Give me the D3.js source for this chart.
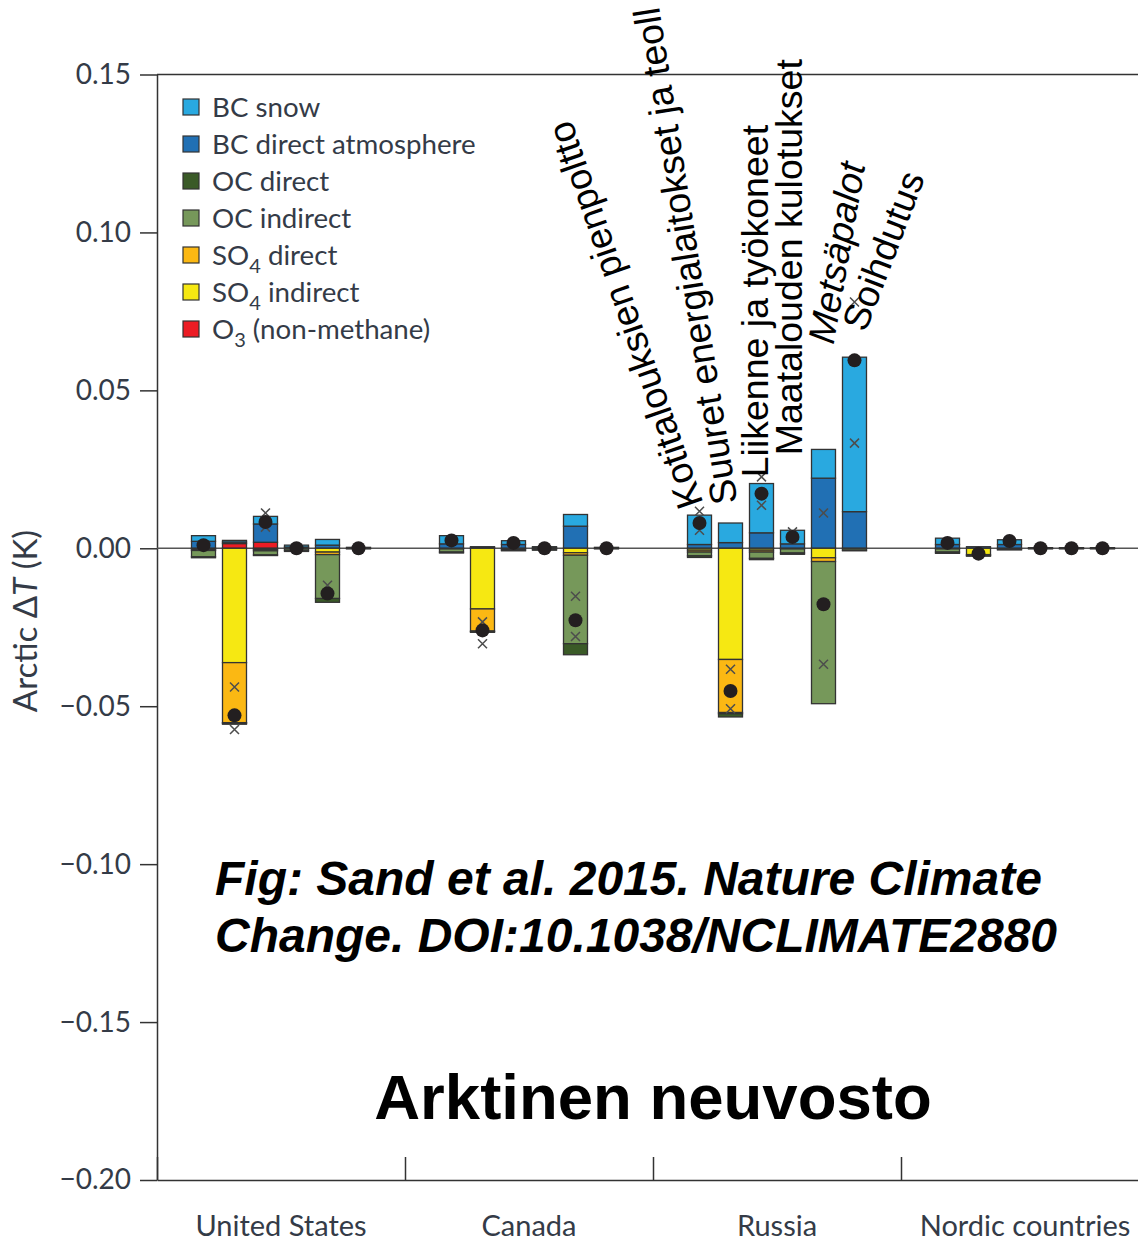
<!DOCTYPE html>
<html>
<head>
<meta charset="utf-8">
<script src="https://cdn.jsdelivr.net/npm/d3@7"></script>
<style>
  body { margin: 0; background: #fff; }
  svg { display: block; }
</style>
</head>
<body>
<div id="chart"></div>
<script>
// categories
var countries = ['United States', 'Canada', 'Russia', 'Nordic countries'];
var sectors = ['Kotitalouksien pienpoltto', 'Suuret energialaitokset ja teoll', 'Liikenne ja työkoneet',
  'Maatalouden kulotukset', 'Metsäpalot', 'Soihdutus'];
var yTicks = [0.15, 0.10, 0.05, 0.00, -0.05, -0.10, -0.15, -0.20];

// values (K), 6 sectors per country, in country order
var bcSnow = [
  0.0018, 0.0005, 0.0024, 0.0006, 0.0018, 0,
  0.0026, 0.0002, 0.0012, 0.0002, 0.0037, 0,
  0.0093, 0.0062, 0.0156, 0.0043, 0.0091, 0.0489,
  0.0020, 0, 0.0015, 0, 0, 0];
var bcAtm = [
  0.0022, 0.0005, 0.0058, 0.0004, 0.0010, 0.0003,
  0.0014, 0.0003, 0.0012, 0.0003, 0.0070, 0.0003,
  0.0012, 0.0018, 0.0049, 0.0014, 0.0222, 0.0116,
  0.0012, 0.0005, 0.0012, 0.0002, 0.0002, 0.0002];
var ocDirect = [
  -0.0003, -0.0003, -0.0002, -0.0004, -0.0012, -0.0002,
  -0.0003, -0.0002, -0.0002, -0.0002, -0.0035, -0.0002,
  -0.0005, -0.0010, -0.0004, -0.0004, 0, -0.0002,
  -0.0004, -0.0002, -0.0001, -0.0002, -0.0002, -0.0002];
var ocIndirect = [
  -0.0020, -0.0002, -0.0013, -0.0006, -0.0139, 0,
  -0.0010, -0.0002, -0.0004, -0.0004, -0.0280, 0,
  -0.0012, -0.0004, -0.0020, -0.0013, -0.0450, -0.0006,
  -0.0010, 0, -0.0004, 0, 0, 0];
var so4Direct = [
  -0.0003, -0.0190, -0.0004, 0, -0.0008, 0,
  0, -0.0070, 0, 0, -0.0008, 0,
  -0.0006, -0.0168, -0.0006, 0, -0.0012, 0,
  0, -0.0003, 0, 0, 0, 0];
var so4Indirect = [
  -0.0004, -0.0362, -0.0004, 0, -0.0012, 0,
  -0.0002, -0.0192, -0.0002, 0, -0.0014, 0,
  -0.0006, -0.0352, -0.0006, -0.0002, -0.0030, 0,
  -0.0002, -0.0020, 0, 0, 0, 0];
var o3 = [
  0, 0.0015, 0.0019, 0, 0, 0,
  0, 0, 0, 0, 0, 0,
  0, 0, 0, 0, 0, 0,
  0, 0, 0, 0, 0, 0];

// net total (dots) and the two other estimates (crosses)
var netTotal = [
  0.0010, -0.0529, 0.0083, 0.0000, -0.0143, 0.0000,
  0.0025, -0.0260, 0.0017, 0.0000, -0.0228, 0.0000,
  0.0080, -0.0452, 0.0173, 0.0036, -0.0177, 0.0595,
  0.0017, -0.0017, 0.0023, 0.0000, 0.0000, 0.0000];
var crossA = [
  null, -0.0439, 0.0112, null, -0.0117, null,
  null, -0.0233, null, null, -0.0152, null,
  0.0117, -0.0383, 0.0226, 0.0052, 0.0112, 0.0780,
  null, null, null, null, null, null];
var crossB = [
  null, -0.0574, 0.0067, null, null, null,
  null, -0.0302, null, null, -0.0279, null,
  0.0057, -0.0508, 0.0136, null, -0.0367, 0.0333,
  null, null, null, null, null, null];

// legend
var legendLabels = ['BC snow', 'BC direct atmosphere', 'OC direct', 'OC indirect', 'SO4 direct', 'SO4 indirect', 'O3 (non-methane)'];
var legendKeys = ['bcSnow', 'bcAtm', 'ocDirect', 'ocIndirect', 'so4Direct', 'so4Indirect', 'o3'];
var colors = {
  bcSnow: '#29a9e0', bcAtm: '#2170b4', ocDirect: '#3a5a27', ocIndirect: '#76985a',
  so4Direct: '#fbb813', so4Indirect: '#f6e812', o3: '#ec1c24'
};

var width = 1138, height = 1241;
var plotLeft = 157, plotRight = 1149, plotTop = 74.5, plotBottom = 1180;
var axisFont = 'Lato, "Open Sans", sans-serif';
var axisColor = '#343b47';

var svg = d3.select('#chart').append('svg')
  .attr('width', width)
  .attr('height', height);

var x0 = d3.scaleBand().domain(countries).range([plotLeft, plotRight]);
var x1 = d3.scaleBand().domain(sectors).range([0, x0.bandwidth()])
  .paddingInner(7 / 31).paddingOuter(1.113);
var y = d3.scaleLinear().domain([-0.20, 0.15]).range([plotBottom, plotTop]);

var rows = [];
countries.forEach(function(c, ci) {
  sectors.forEach(function(s, si) {
    var i = ci * sectors.length + si;
    rows.push({
      country: c, sector: s,
      o3: o3[i], bcAtm: bcAtm[i], bcSnow: bcSnow[i],
      so4Indirect: so4Indirect[i], so4Direct: so4Direct[i],
      ocIndirect: ocIndirect[i], ocDirect: ocDirect[i],
      net: netTotal[i], crosses: [crossA[i], crossB[i]].filter(function(v) { return v !== null; })
    });
  });
});

function barX(d) { return x0(d.country) + x1(d.sector); }

// frame top line
svg.append('line')
  .attr('x1', plotLeft).attr('x2', plotRight)
  .attr('y1', plotTop).attr('y2', plotTop)
  .attr('stroke', '#333').attr('stroke-width', 1.5);

// y axis
var yAxis = svg.append('g')
  .attr('transform', 'translate(' + plotLeft + ',0)')
  .call(d3.axisLeft(y).tickValues(yTicks).tickSize(17).tickSizeOuter(0).tickPadding(9)
    .tickFormat(d3.format('.2f')));
yAxis.select('.domain').attr('stroke', '#333').attr('stroke-width', 1.5);
yAxis.selectAll('.tick line').attr('stroke', '#333').attr('stroke-width', 1.5);
yAxis.selectAll('.tick text')
  .attr('font-family', axisFont).attr('font-size', '28px').attr('fill', axisColor);

// x axis with separators between countries
var xSep = d3.scaleLinear().domain([0, countries.length]).range([plotLeft, plotRight]);
var xAxis = svg.append('g')
  .attr('transform', 'translate(0,' + plotBottom + ')')
  .call(d3.axisBottom(xSep).tickValues(d3.range(0, countries.length + 1))
    .tickSize(-23).tickSizeOuter(0).tickFormat(''));
xAxis.select('.domain').attr('stroke', '#333').attr('stroke-width', 1.5);
xAxis.selectAll('.tick line').attr('stroke', '#333').attr('stroke-width', 1.5);

svg.selectAll('text.country')
  .data(countries)
  .enter()
  .append('text')
  .attr('class', 'country')
  .attr('x', function(c) { return x0(c) + x0.bandwidth() / 2; })
  .attr('y', 1236)
  .attr('text-anchor', 'middle')
  .attr('font-family', axisFont)
  .attr('font-size', '29px')
  .attr('fill', axisColor)
  .text(function(c) { return c; });

// y label
var yLabel = svg.append('text')
  .attr('transform', 'translate(37,621) rotate(-90)')
  .attr('text-anchor', 'middle')
  .attr('font-family', axisFont)
  .attr('font-size', '33px')
  .attr('fill', axisColor);
yLabel.append('tspan').text('Arctic \u0394');
yLabel.append('tspan').attr('font-style', 'italic').text('T');
yLabel.append('tspan').text(' (K)');

// zero line
svg.append('line')
  .attr('x1', plotLeft).attr('x2', plotRight)
  .attr('y1', y(0)).attr('y2', y(0))
  .attr('stroke', '#555').attr('stroke-width', 1.5);

// stacked bars
var stackKeys = ['o3', 'bcAtm', 'bcSnow', 'so4Indirect', 'so4Direct', 'ocIndirect', 'ocDirect'];
var series = d3.stack().keys(stackKeys).offset(d3.stackOffsetDiverging)(rows);

svg.append('g').selectAll('g')
  .data(series)
  .enter()
  .append('g')
  .attr('fill', function(s) { return colors[s.key]; })
  .selectAll('rect')
  .data(function(s) { return s.filter(function(d) { return d[1] !== d[0]; }); })
  .enter()
  .append('rect')
  .attr('x', function(d) { return barX(d.data); })
  .attr('width', x1.bandwidth())
  .attr('y', function(d) { return y(Math.max(d[0], d[1])); })
  .attr('height', function(d) { return Math.abs(y(d[0]) - y(d[1])); })
  .attr('stroke', '#333')
  .attr('stroke-width', 1.3);

// crosses
var crossData = [];
rows.forEach(function(r) {
  r.crosses.forEach(function(v) { crossData.push({ row: r, value: v }); });
});
svg.append('g').selectAll('path')
  .data(crossData)
  .enter()
  .append('path')
  .attr('d', function(d) {
    var cx = barX(d.row) + x1.bandwidth() / 2, cy = y(d.value), s = 4.5;
    return 'M' + (cx - s) + ',' + (cy - s) + 'L' + (cx + s) + ',' + (cy + s) +
      'M' + (cx - s) + ',' + (cy + s) + 'L' + (cx + s) + ',' + (cy - s);
  })
  .attr('stroke', '#4d4d4d')
  .attr('stroke-width', 1.5)
  .attr('fill', 'none');

// net dots
svg.append('g').selectAll('circle')
  .data(rows)
  .enter()
  .append('circle')
  .attr('cx', function(d) { return barX(d) + x1.bandwidth() / 2; })
  .attr('cy', function(d) { return y(d.net); })
  .attr('r', 7)
  .attr('fill', '#231f20');

// legend
var legend = svg.append('g').attr('transform', 'translate(183,99)');
var items = legend.selectAll('g')
  .data(legendLabels)
  .enter()
  .append('g')
  .attr('transform', function(d, i) { return 'translate(0,' + (i * 37) + ')'; });
items.append('rect')
  .attr('width', 16).attr('height', 16)
  .attr('fill', function(d, i) { return colors[legendKeys[i]]; })
  .attr('stroke', '#333').attr('stroke-width', 1.2);
items.append('text')
  .attr('x', 29).attr('y', 18)
  .attr('font-family', axisFont)
  .attr('font-size', '27.7px')
  .attr('fill', axisColor)
  .each(function(d) {
    var t = d3.select(this);
    var m = d.match(/^(S?O)(\d)(.*)$/);
    if (!m) { t.text(d); return; }
    t.append('tspan').text(m[1]);
    t.append('tspan').attr('dy', 8).attr('font-size', '20px').text(m[2]);
    t.append('tspan').attr('dy', -8).text(m[3]);
  });

// sector labels above the Russia bars
var labelStyle = [
  { angle: -109, dx: 4, dy: -45, italic: false },
  { angle: -99, dx: 7, dy: -46, italic: false },
  { angle: -90, dx: 6, dy: -71, italic: false },
  { angle: -90, dx: 10, dy: -93, italic: false },
  { angle: -80, dx: 10, dy: -203, italic: true },
  { angle: -69, dx: 11, dy: -215, italic: false }
];
svg.append('g').selectAll('text')
  .data(sectors)
  .enter()
  .append('text')
  .attr('transform', function(s, i) {
    var ls = labelStyle[i];
    var cx = x0('Russia') + x1(s) + x1.bandwidth() / 2 + ls.dx;
    return 'translate(' + cx + ',' + (y(0) + ls.dy) + ') rotate(' + ls.angle + ')';
  })
  .attr('font-family', '"Liberation Sans", Arial, sans-serif')
  .attr('font-size', '37.5px')
  .attr('font-style', function(s, i) { return labelStyle[i].italic ? 'italic' : 'normal'; })
  .attr('fill', '#000')
  .text(function(s) { return s; });

// source note and title
var note = svg.append('text')
  .attr('x', 215)
  .attr('font-family', '"Liberation Sans", Arial, sans-serif')
  .attr('font-size', '48px')
  .attr('font-weight', 'bold')
  .attr('font-style', 'italic')
  .attr('fill', '#000');
note.append('tspan').attr('x', 215).attr('y', 895).text('Fig: Sand et al. 2015. Nature Climate');
note.append('tspan').attr('x', 215).attr('y', 952).text('Change. DOI:10.1038/NCLIMATE2880');

svg.append('text')
  .attr('x', x0('Russia'))
  .attr('y', 1119)
  .attr('text-anchor', 'middle')
  .attr('font-family', '"Liberation Sans", Arial, sans-serif')
  .attr('font-size', '63.5px')
  .attr('font-weight', 'bold')
  .attr('fill', '#000')
  .text('Arktinen neuvosto');
</script>
</body>
</html>
